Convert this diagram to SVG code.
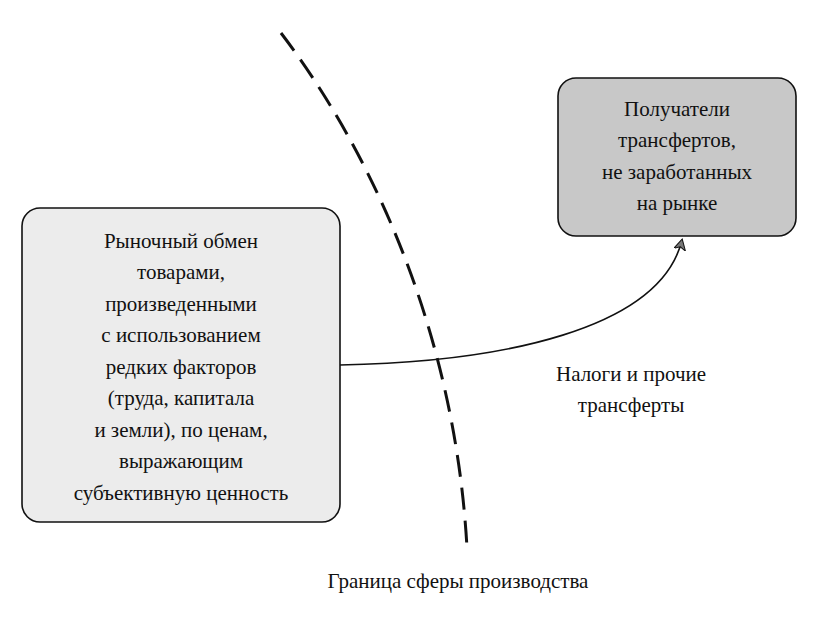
<svg xmlns="http://www.w3.org/2000/svg" width="819" height="617" viewBox="0 0 819 617">
<style>
text{font-family:"Liberation Serif",serif;font-size:21px;fill:#111;text-anchor:middle}
.box{stroke:#111;stroke-width:1.6}
</style>
<defs>
<marker id="ah" viewBox="0 0 12 12" refX="10" refY="6" markerWidth="12" markerHeight="12" markerUnits="userSpaceOnUse" orient="auto">
<path d="M0,0 L11,6 L0,12 L3,6 Z" fill="#777" stroke="#111" stroke-width="1"/>
</marker>
</defs>
<rect width="819" height="617" fill="#fff"/>
<g id="boundary">
<path d="M281,33 C370,150 455,330 467,548" fill="none" stroke="#111" stroke-width="3" stroke-dasharray="22,11"/>
<text x="458" y="588">Граница сферы производства</text>
</g>
<g id="market">
<rect class="box" x="22" y="208" width="318" height="314" rx="18" fill="#ececec"/>
<text x="181" y="248">Рыночный обмен</text>
<text x="181" y="279">товарами,</text>
<text x="181" y="311">произведенными</text>
<text x="181" y="342">с использованием</text>
<text x="181" y="374">редких факторов</text>
<text x="181" y="405">(труда, капитала</text>
<text x="181" y="437">и земли), по ценам,</text>
<text x="181" y="468">выражающим</text>
<text x="181" y="500">субъективную ценность</text>
</g>
<g id="recipients">
<rect class="box" x="558" y="78" width="238" height="158" rx="18" fill="#c8c8c8"/>
<text x="677" y="116">Получатели</text>
<text x="677" y="147">трансфертов,</text>
<text x="677" y="179">не заработанных</text>
<text x="677" y="210">на рынке</text>
</g>
<g id="connectors">
<path d="M340,365 C500,362 660,330 682,240" fill="none" stroke="#111" stroke-width="1.6" marker-end="url(#ah)"/>
<text x="631" y="381">Налоги и прочие</text>
<text x="631" y="412">трансферты</text>
</g>
</svg>
